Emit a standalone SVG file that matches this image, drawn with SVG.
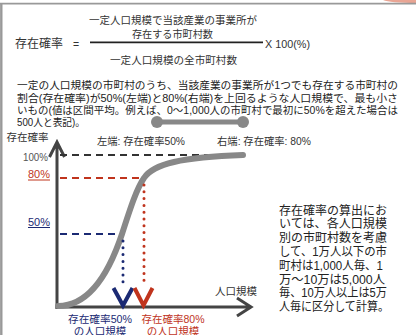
<svg xmlns="http://www.w3.org/2000/svg" width="416" height="335" viewBox="0 0 416 335">
<style>
text{font-family:"Liberation Sans","Noto Sans CJK JP",sans-serif;fill:#333}
.t10{font-size:10.5px}
.t12{font-size:12px}
.blk{fill:#222}
.red{fill:#c0341d}
.navy{fill:#1b2a73}
.gray{fill:#555}
.ax{fill:none;stroke:#444;stroke-width:3;stroke-linejoin:miter}
</style>
<rect x="0" y="0" width="416" height="335" fill="#fff"/>
<g id="frame">
<path d="M383,0 Q390,3 416,3 L416,0 Z" fill="#e9a594"/>
<line x1="0" y1="3.6" x2="416" y2="3.6" stroke="#999" stroke-width="1.6"/>
<line x1="1.3" y1="3" x2="1.3" y2="335" stroke="#999" stroke-width="2.4"/>
</g>
<g id="formula">
<text class="t12" x="15" y="48" textLength="48" lengthAdjust="spacingAndGlyphs">存在確率</text>
<text class="t10" x="76" y="48" text-anchor="middle">=</text>
<line x1="90" y1="42.3" x2="263" y2="42.3" stroke="#222" stroke-width="1.7"/>
<text class="t10" x="173" y="24" text-anchor="middle" textLength="168" lengthAdjust="spacingAndGlyphs">一定人口規模で当該産業の事業所が</text>
<text class="t10" x="172.5" y="38" text-anchor="middle" textLength="81" lengthAdjust="spacingAndGlyphs">存在する市町村数</text>
<text class="t10" x="173.5" y="64" text-anchor="middle" textLength="127" lengthAdjust="spacingAndGlyphs">一定人口規模の全市町村数</text>
<text class="t10" x="265" y="47.5" textLength="45" lengthAdjust="spacingAndGlyphs">X 100(%)</text>
</g>
<g id="description">
<text class="t10 blk" x="17" y="89" textLength="381" lengthAdjust="spacingAndGlyphs">一定の人口規模の市町村のうち、当該産業の事業所が1つでも存在する市町村の</text>
<text class="t10 blk" x="17" y="101.5" textLength="381" lengthAdjust="spacingAndGlyphs">割合(存在確率)が50%(左端)と80%(右端)を上回るような人口規模で、最も小さ</text>
<text class="t10 blk" x="17" y="114" textLength="381" lengthAdjust="spacingAndGlyphs">いもの(値は区間平均。例えば、0～1,000人の市町村で最初に50%を超えた場合は</text>
<text class="t10 blk" x="17" y="126" textLength="68" lengthAdjust="spacingAndGlyphs">500人と表記)。</text>
</g>
<g id="range-bar">
<line x1="157" y1="122" x2="243" y2="122" stroke="#888" stroke-width="5"/>
<circle cx="157" cy="122" r="6" fill="#888"/>
<circle cx="243" cy="122" r="6" fill="#888"/>
</g>
<g id="label-left">
<text class="t10" x="97" y="144.5" textLength="88" lengthAdjust="spacingAndGlyphs">左端: 存在確率50%</text>
</g>
<g id="label-right">
<text class="t10" x="217" y="144.5" textLength="94" lengthAdjust="spacingAndGlyphs">右端: 存在確率: 80%</text>
</g>
<g id="y-axis-labels">
<text class="t10" x="6.5" y="140.5" textLength="42" lengthAdjust="spacingAndGlyphs">存在確率</text>
<text class="t10 gray" x="23" y="161" textLength="25" lengthAdjust="spacingAndGlyphs">100%</text>
<text class="t10 red" x="28" y="178" textLength="22" lengthAdjust="spacingAndGlyphs">80%</text>
<line x1="28" y1="180" x2="50" y2="180" stroke="#c0341d" stroke-width="1"/>
<text class="t10 navy" x="28" y="225.5" textLength="22" lengthAdjust="spacingAndGlyphs">50%</text>
<line x1="28" y1="227.5" x2="50" y2="227.5" stroke="#1b2a73" stroke-width="1"/>
</g>
<g id="x-axis-label">
<text class="t10" x="215" y="294.5" textLength="42" lengthAdjust="spacingAndGlyphs">人口規模</text>
</g>
<g id="label-50">
<text class="t10 navy" x="100" y="323" text-anchor="middle" textLength="64" lengthAdjust="spacingAndGlyphs">存在確率50%</text>
<text class="t10 navy" x="100" y="334.5" text-anchor="middle">の人口規模</text>
</g>
<g id="label-80">
<text class="t10 red" x="173" y="323" text-anchor="middle" textLength="63" lengthAdjust="spacingAndGlyphs">存在確率80%</text>
<text class="t10 red" x="173" y="334.5" text-anchor="middle">の人口規模</text>
</g>
<g id="note">
<text class="t12 blk" x="279" y="214.5" textLength="108" lengthAdjust="spacingAndGlyphs">存在確率の算出にお</text>
<text class="t12 blk" x="279" y="228.3" textLength="108" lengthAdjust="spacingAndGlyphs">いては、各人口規模</text>
<text class="t12 blk" x="279" y="242.1" textLength="108" lengthAdjust="spacingAndGlyphs">別の市町村数を考慮</text>
<text class="t12 blk" x="279" y="255.9" textLength="108" lengthAdjust="spacingAndGlyphs">して、1万人以下の市</text>
<text class="t12 blk" x="279" y="269.7" textLength="104" lengthAdjust="spacingAndGlyphs">町村は1,000人毎、1</text>
<text class="t12 blk" x="279" y="283.5" textLength="106" lengthAdjust="spacingAndGlyphs">万～10万は5,000人</text>
<text class="t12 blk" x="279" y="297.3" textLength="108" lengthAdjust="spacingAndGlyphs">毎、10万人以上は5万</text>
<text class="t12 blk" x="279" y="311.1" textLength="110" lengthAdjust="spacingAndGlyphs">人毎に区分して計算。</text>
</g>
<g id="connectors">
<path d="M57,309 V142 M49.5,157 L57,142 L64.5,157" class="ax"/>
<path d="M55.5,307 H251 M237,298 L251,307 L237,316" class="ax"/>
<line x1="60" y1="155" x2="243" y2="155" stroke="#333" stroke-width="2" stroke-dasharray="7,5"/>
<line x1="60" y1="178" x2="143" y2="178" stroke="#c0341d" stroke-width="2" stroke-dasharray="7,5"/>
<line x1="60" y1="234" x2="121" y2="234" stroke="#1b2a73" stroke-width="2" stroke-dasharray="7,5"/>
<path d="M58,306 C90,306 110,270 122,234 C131,206 137,188 144,178 C153,164 182,157 243,155" fill="none" stroke="#888" stroke-width="6" stroke-linecap="round"/>
<line x1="123" y1="241" x2="123" y2="284" stroke="#1b2a73" stroke-width="3" stroke-linecap="round" stroke-dasharray="0,6.8"/>
<line x1="144" y1="185" x2="144" y2="284" stroke="#c0341d" stroke-width="3" stroke-linecap="round" stroke-dasharray="0,6.8"/>
<path d="M113.5,288 L123,305.5 L132.5,288" fill="none" stroke="#1b2a73" stroke-width="4"/>
<path d="M134.5,288 L143.5,305.5 L152.5,288" fill="none" stroke="#c0341d" stroke-width="4"/>
</g>
</svg>
